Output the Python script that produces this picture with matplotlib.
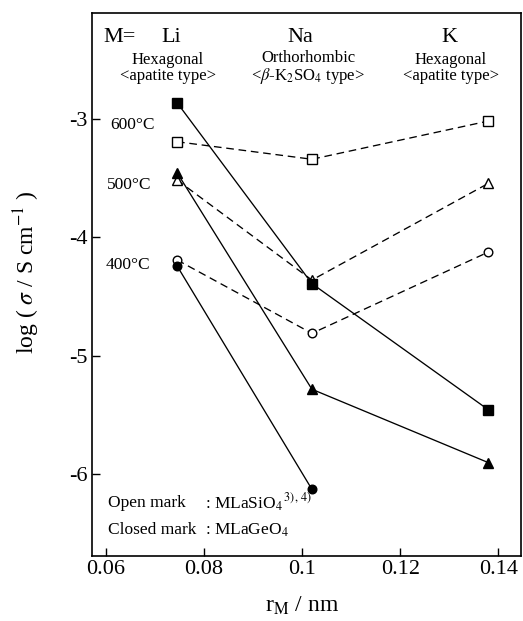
import matplotlib
matplotlib.use("Agg")
import matplotlib.pyplot as plt

plt.rcParams['font.family'] = ['Liberation Serif', 'DejaVu Serif']
plt.rcParams['mathtext.fontset'] = 'stix'

# ---- data ----
radius = [0.0745, 0.102, 0.138]          # Li, Na, K ionic radius / nm
ions = ["Li", "Na", "K"]
structures = ["Hexagonal\n<apatite type>",
              "Orthorhombic\n<$\\beta$-K$_2$SO$_4$ type>",
              "Hexagonal\n<apatite type>"]
temps = ["600°C", "500°C", "400°C"]

# open marks: MLaSiO4
si_600 = [-3.192, -3.34, -3.017]
si_500 = [-3.515, -4.36, -3.543]
si_400 = [-4.19, -4.81, -4.123]
# closed marks: MLaGeO4
ge_600 = [-2.862, -4.39, -5.456]
ge_500 = [-3.453, -5.282, -5.902]
ge_400 = [-4.24, -6.127]

xticks = [0.06, 0.08, 0.10, 0.12, 0.14]
xticklabels = ["0.06", "0.08", "0.1", "0.12", "0.14"]
yticks = [-6, -5, -4, -3]
yticklabels = ["-6", "-5", "-4", "-3"]

W, H = 523, 621
fig = plt.figure(figsize=(W / 100, H / 100), dpi=100)
ax = fig.add_axes([91.7 / W, 1 - 556 / H, (520.7 - 91.7) / W, (556 - 13) / H])

dash = (5.8, 3.6)
lw = 0.95
def pl(x, y, marker, filled, ms):
    kw = dict(color='black', lw=lw, marker=marker, markersize=ms,
              markeredgecolor='black', markeredgewidth=1.0,
              markerfacecolor='black' if filled else 'white')
    line, = ax.plot(x, y, **kw, zorder=3 if filled else 2)
    if not filled:
        line.set_dashes(dash)
    return line

pl(radius, si_600, 's', False, 6.5)
pl(radius, si_500, '^', False, 7.5)
pl(radius, si_400, 'o', False, 6.2)
pl(radius, ge_600, 's', True, 6.5)
pl(radius, ge_500, '^', True, 7.5)
pl(radius[:2], ge_400, 'o', True, 6.2)

ax.set_xlim(0.0571, 0.14457)
ax.set_ylim(-6.69, -2.105)
ax.set_xticks(xticks)
ax.set_xticklabels(xticklabels)
ax.set_yticks(yticks)
ax.set_yticklabels(yticklabels)
ax.tick_params(direction='in', length=6, width=1.0, labelsize=16, pad=3,
               top=False, right=False)
for s in ax.spines.values():
    s.set_linewidth(1.2)

def ftext(x, y, s, **kw):
    fig.text(x / W, 1 - y / H, s, **kw)

ftext(27, 272, "log ( $\\sigma$ / S cm$^{-1}$ )", rotation=90,
      ha='center', va='center', fontsize=17)
ftext(302, 606, "r$_{\\rm M}$ / nm", ha='center', va='center', fontsize=17)

ftext(103, 37, "M=", ha='left', va='center', fontsize=16)
ion_x = [171, 300, 449]
struct_x = [168, 308, 451]
for ix, sx, ion, st in zip(ion_x, struct_x, ions, structures):
    ftext(ix, 37, ion, ha='center', va='center', fontsize=16)
    ftext(sx, 68, st, ha='center', va='center', fontsize=12,
          linespacing=1.05)

temp_y = [125, 185, 265]
temp_x = [110, 107, 106]
for tx, ty, t in zip(temp_x, temp_y, temps):
    ftext(tx, ty, t, ha='left', va='center', fontsize=12.5)

ftext(108, 503, "Open mark", ha='left', va='center', fontsize=12.5)
ftext(205, 503, ": MLaSiO$_4$$^{\\,3),\\,4)}$", ha='left', va='center', fontsize=12.5)
ftext(108, 530, "Closed mark", ha='left', va='center', fontsize=12.5)
ftext(205, 530, ": MLaGeO$_4$", ha='left', va='center', fontsize=12.5)

fig.savefig("out.png", dpi=100)
